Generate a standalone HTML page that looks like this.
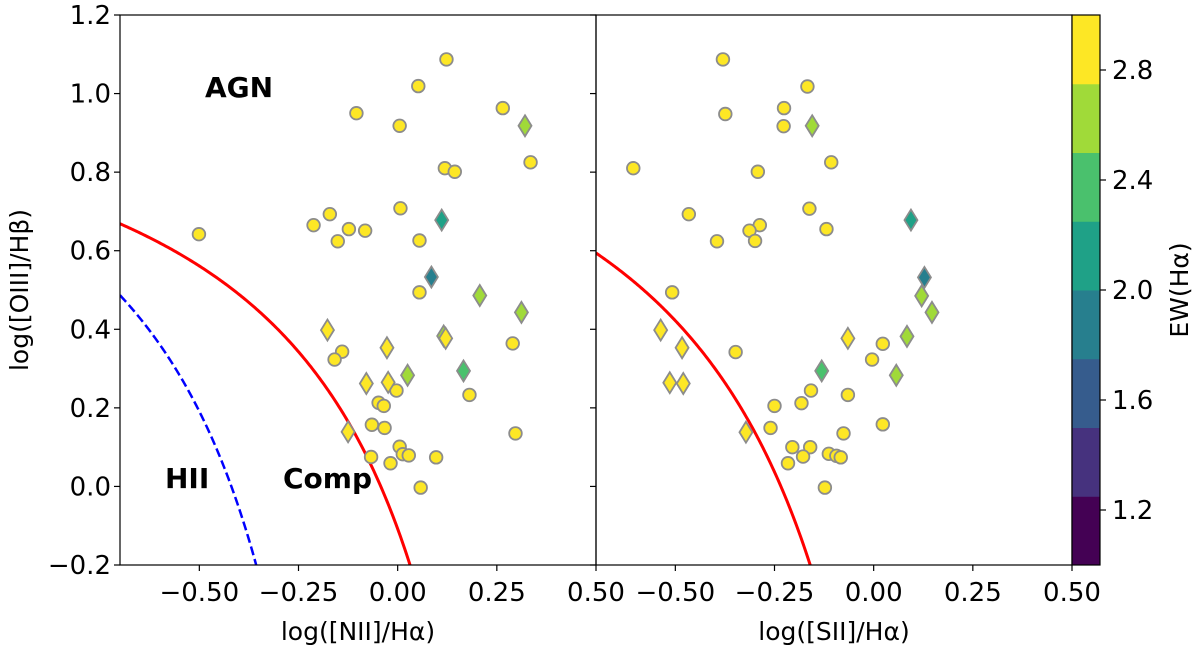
<!DOCTYPE html>
<html><head><meta charset="utf-8">
<style>
html,body{margin:0;padding:0;background:#fff;}
svg{display:block;font-family:"DejaVu Sans","Liberation Sans",sans-serif;}
</style></head>
<body>
<svg id="chart" width="1200" height="648" viewBox="0 0 1200 648">
<defs>
<clipPath id="clipL"><rect x="120" y="15" width="476" height="550"/></clipPath>
<clipPath id="clipR"><rect x="596" y="15" width="476" height="550"/></clipPath>
</defs>
<g id="content"></g>
</svg>
<script>
// ---- data ----
const xTicks = [-0.5, -0.25, 0.0, 0.25, 0.5];
const xTickLabels = ["\u22120.50", "\u22120.25", "0.00", "0.25", "0.50"];
const yTicks = [-0.2, 0.0, 0.2, 0.4, 0.6, 0.8, 1.0, 1.2];
const yTickLabels = ["\u22120.2", "0.0", "0.2", "0.4", "0.6", "0.8", "1.0", "1.2"];
const cbTicks = [1.2, 1.6, 2.0, 2.4, 2.8];
const cbTickLabels = ["1.2", "1.6", "2.0", "2.4", "2.8"];
const cbColors = ["#440154","#46327e","#365c8d","#277f8e","#1fa187","#4ac16d","#a0da39","#fde725"];

const nLeftCircX = [0.123,0.052,0.265,-0.104,0.005,0.119,0.144,0.335,-0.501,-0.171,-0.212,-0.123,-0.082,-0.151,0.007,0.055,0.055,0.290,-0.140,-0.159,-0.003,-0.048,-0.035,0.181,-0.065,-0.033,0.297,0.005,0.013,0.028,-0.067,-0.018,0.097,0.058];
const nLeftCircY = [1.087,1.019,0.963,0.950,0.918,0.810,0.801,0.825,0.642,0.693,0.665,0.655,0.651,0.624,0.708,0.626,0.494,0.364,0.343,0.323,0.244,0.213,0.205,0.233,0.157,0.149,0.135,0.101,0.082,0.079,0.075,0.059,0.074,-0.003];
const nLeftDiaX = [0.321,0.111,0.085,0.207,0.312,-0.177,-0.027,0.116,0.121,0.166,0.025,-0.079,-0.024,-0.125];
const nLeftDiaY = [0.918,0.678,0.533,0.486,0.443,0.398,0.353,0.383,0.377,0.294,0.283,0.262,0.265,0.139];
const nLeftDiaEW = [2.6,2.1,1.9,2.6,2.6,2.9,2.9,2.6,2.9,2.4,2.6,2.9,2.9,2.9];

const sRightCircX = [-0.380,-0.167,-0.226,-0.374,-0.227,-0.107,-0.606,-0.292,-0.162,-0.466,-0.287,-0.313,-0.119,-0.395,-0.299,-0.508,-0.348,0.023,-0.004,-0.158,-0.182,-0.065,-0.250,-0.260,0.023,-0.076,-0.205,-0.160,-0.178,-0.113,-0.094,-0.083,-0.216,-0.123];
const sRightCircY = [1.087,1.018,0.963,0.948,0.917,0.825,0.810,0.801,0.707,0.693,0.665,0.651,0.655,0.624,0.625,0.494,0.342,0.363,0.323,0.244,0.212,0.233,0.205,0.149,0.158,0.135,0.100,0.100,0.076,0.083,0.078,0.074,0.059,-0.003];
const sRightDiaX = [-0.155,0.094,0.128,0.121,0.147,0.084,-0.537,-0.483,-0.514,-0.480,-0.065,-0.131,0.057,-0.322];
const sRightDiaY = [0.918,0.678,0.532,0.485,0.443,0.382,0.398,0.353,0.264,0.262,0.377,0.294,0.283,0.138];
const sRightDiaEW = [2.6,2.1,1.9,2.6,2.6,2.6,2.9,2.9,2.9,2.9,2.9,2.4,2.6,2.9];
const circleEW = 2.9;

// ---- axes ----
const XMIN=-0.7, XMAX=0.5, YMIN=-0.2, YMAX=1.2, TOP=15, BOT=565, W=476;
const panels=[120,596];
function sx(p,v){return panels[p]+(v-XMIN)/(XMAX-XMIN)*W;}
function sy(v){return BOT-(v-YMIN)/(YMAX-YMIN)*(BOT-TOP);}
function cy(v){return BOT-(v-1.0)/2.0*(BOT-TOP);}
function colorOf(v){let i=Math.floor((v-1)/0.25);i=Math.max(0,Math.min(7,i));return cbColors[i];}

const NS="http://www.w3.org/2000/svg";
const root=document.getElementById('content');
function mk(tag,attrs,parent){const e=document.createElementNS(NS,tag);for(const k in attrs)e.setAttribute(k,attrs[k]);(parent||root).appendChild(e);return e;}

function curvePath(p,f,x0,x1){let d="";for(let i=0;i<=200;i++){const x=x0+(x1-x0)*i/200;const y=f(x);d+=(i?"L":"M")+sx(p,x).toFixed(2)+","+sy(y).toFixed(2);}return d;}
const gL=mk('g',{'clip-path':'url(#clipL)'});


const gR=mk('g',{'clip-path':'url(#clipR)'});



let c1=mk('path',{d:curvePath(0,x=>0.61/(x-0.05)+1.3,-0.7,-0.34),fill:'none',stroke:'#0000ff','stroke-width':2.5,'stroke-dasharray':'9,4'},gL);


let c2=mk('path',{d:curvePath(0,x=>0.61/(x-0.47)+1.19,-0.7,0.04),fill:'none',stroke:'#ff0000','stroke-width':3},gL);


let c3=mk('path',{d:curvePath(1,x=>0.72/(x-0.32)+1.30,-0.7,-0.15),fill:'none',stroke:'#ff0000','stroke-width':3},gR);



function circle(p,g,x,y,ew){const e=mk('circle',{cx:sx(p,x),cy:sy(y),r:6.3,fill:colorOf(ew),stroke:'#8c8c8c','stroke-width':1.8},g);

}
function diamond(p,g,x,y,ew){const X=sx(p,x),Y=sy(y);const e=mk('path',{d:`M${X},${Y-10.5}L${X+6.5},${Y}L${X},${Y+10.5}L${X-6.5},${Y}Z`,fill:colorOf(ew),stroke:'#8c8c8c','stroke-width':1.8},g);

}
nLeftCircX.forEach((x,i)=>circle(0,gL,x,nLeftCircY[i],circleEW));
nLeftDiaX.forEach((x,i)=>diamond(0,gL,x,nLeftDiaY[i],nLeftDiaEW[i]));
sRightCircX.forEach((x,i)=>circle(1,gR,x,sRightCircY[i],circleEW));
sRightDiaX.forEach((x,i)=>diamond(1,gR,x,sRightDiaY[i],sRightDiaEW[i]));

const FS=26;
for(let p=0;p<2;p++){
  const f=mk('rect',{x:panels[p],y:TOP,width:W,height:BOT-TOP,fill:'none',stroke:'#000','stroke-width':1.2});
  
  
  xTicks.forEach((v,i)=>{const X=sx(p,v);mk('line',{x1:X,x2:X,y1:BOT,y2:BOT+6,stroke:'#000','stroke-width':1.2});
    const t=mk('text',{x:X,y:BOT+36,'text-anchor':'middle','font-size':FS,fill:'#000'});t.textContent=xTickLabels[i];
    
    });
  yTicks.forEach((v,i)=>{const Y=sy(v);mk('line',{x1:panels[p]-6,x2:panels[p],y1:Y,y2:Y,stroke:'#000','stroke-width':1.2});
    if(p===0){const t=mk('text',{x:111,y:Y+9,'text-anchor':'end','font-size':FS,fill:'#000'});t.textContent=yTickLabels[i];
    
    }});
}
let t;
t=mk('text',{x:358,y:640,'text-anchor':'middle','font-size':25});t.textContent='log([NII]/H\u03b1)';


t=mk('text',{x:834,y:640,'text-anchor':'middle','font-size':25});t.textContent='log([SII]/H\u03b1)';


t=mk('text',{x:0,y:0,'text-anchor':'middle','font-size':25,transform:'translate(28,290) rotate(-90)'});t.textContent='log([OIII]/H\u03b2)';


t=mk('text',{x:205,y:97,'font-size':28,'font-weight':'bold'});t.textContent='AGN';


t=mk('text',{x:165,y:488,'font-size':28,'font-weight':'bold'});t.textContent='HII';


t=mk('text',{x:283,y:488,'font-size':28,'font-weight':'bold'});t.textContent='Comp';



const CBX=1072,CBW=28;
cbColors.forEach((c,i)=>{const y1=cy(1+0.25*(i+1)),y0=cy(1+0.25*i);
  const r=mk('rect',{x:CBX,y:y1,width:CBW,height:y0-y1+0.5,fill:c});
  
  });
const cbf=mk('rect',{x:CBX,y:TOP,width:CBW,height:BOT-TOP,fill:'none',stroke:'#000','stroke-width':1.2});


cbTicks.forEach((v,i)=>{const Y=cy(v);mk('line',{x1:CBX+CBW,x2:CBX+CBW+6,y1:Y,y2:Y,stroke:'#000','stroke-width':1.2});
  const tt=mk('text',{x:CBX+CBW+12,y:Y+9,'font-size':FS});tt.textContent=cbTickLabels[i];
  
  });
t=mk('text',{x:0,y:0,'text-anchor':'middle','font-size':25,transform:'translate(1188,290) rotate(-90)'});t.textContent='EW(H\u03b1)';


</script>
</body></html>
